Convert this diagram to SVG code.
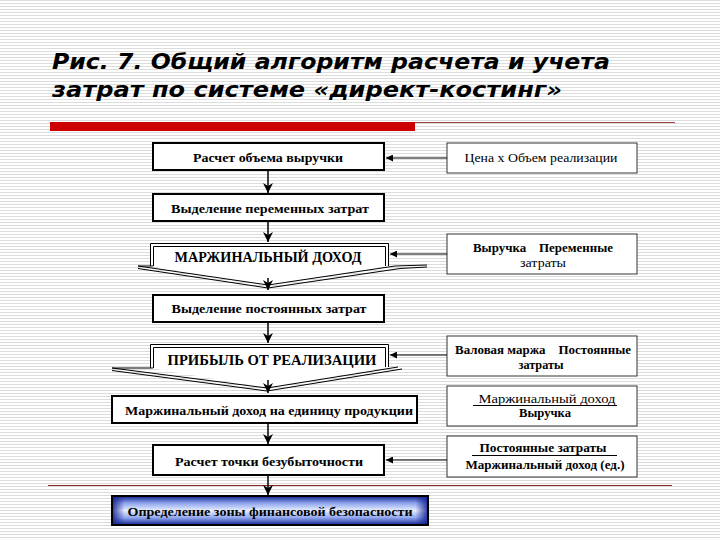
<svg xmlns="http://www.w3.org/2000/svg" width="720" height="540" viewBox="0 0 720 540">
<defs>
<pattern id="stripes" x="0" y="0" width="720" height="3" patternUnits="userSpaceOnUse">
<rect width="720" height="3" fill="#ffffff"/>
<rect y="0" width="720" height="1" fill="#dcdcdc"/>
</pattern>
<marker id="ad" viewBox="0 0 10 10" refX="10" refY="5" markerWidth="10" markerHeight="10" markerUnits="userSpaceOnUse" orient="auto">
<path d="M0,0 L10,5 L0,10 L3,5 z" fill="#000"/>
</marker>
<marker id="al" viewBox="0 0 10 10" refX="10" refY="5" markerWidth="7" markerHeight="7" markerUnits="userSpaceOnUse" orient="auto">
<path d="M0,0 L10,5 L0,10 z" fill="#000"/>
</marker>
<linearGradient id="blueV" x1="0" y1="0" x2="0" y2="1">
<stop offset="0" stop-color="#14228e"/>
<stop offset="0.25" stop-color="#8fa6ee"/>
<stop offset="0.5" stop-color="#e6eeff"/>
<stop offset="0.75" stop-color="#8fa6ee"/>
<stop offset="1" stop-color="#14228e"/>
</linearGradient>
<linearGradient id="blueH" x1="0" y1="0" x2="1" y2="0">
<stop offset="0" stop-color="#14228e" stop-opacity="0.9"/>
<stop offset="0.04" stop-color="#14228e" stop-opacity="0"/>
<stop offset="0.96" stop-color="#14228e" stop-opacity="0"/>
<stop offset="1" stop-color="#14228e" stop-opacity="0.9"/>
</linearGradient>
</defs>
<style>
.title{font-family:"DejaVu Sans","Liberation Sans",sans-serif;font-weight:bold;font-style:italic;font-size:22px;fill:#000}
.t{font-family:"Liberation Serif","Times New Roman",serif;font-weight:bold;font-size:13.5px;fill:#000;text-anchor:middle;dominant-baseline:central}
.tb{font-size:15px}
.r{font-family:"Liberation Serif","Times New Roman",serif;font-size:12.5px;fill:#000;text-anchor:middle;dominant-baseline:central;white-space:pre}
.rb{font-weight:bold}
.box{fill:#fff;stroke:#000;stroke-width:2}
.rbox{fill:#fff;stroke:#333;stroke-width:1}
.banfill{fill:#fff;stroke:none}
.banout{fill:none;stroke:#000;stroke-width:1}
.chev{fill:none;stroke:#000;stroke-width:1}
.con{stroke:#000;stroke-width:1.5;fill:none}
.conr{stroke:#000;stroke-width:1.2;fill:none}
</style>
<rect width="720" height="540" fill="url(#stripes)"/>

<g id="title">
<text class="title" x="52" y="69" textLength="558" lengthAdjust="spacingAndGlyphs">Рис. 7. Общий алгоритм расчета и учета</text>
<text class="title" x="52" y="97" textLength="510" lengthAdjust="spacingAndGlyphs">затрат по системе «директ-костинг»</text>
<rect x="50" y="122" width="365" height="9" fill="#cc0000"/>
<line x1="415" y1="122.5" x2="675" y2="122.5" stroke="#a04040" stroke-width="1"/>
</g>

<g id="n1">
<rect class="box" x="153" y="143" width="231" height="27"/>
<text class="t" x="268" y="157" textLength="150" lengthAdjust="spacingAndGlyphs">Расчет объема выручки</text>
</g>
<g id="r1">
<rect class="rbox" x="447" y="143" width="190" height="30"/>
<text class="r" x="541" y="158" textLength="153" lengthAdjust="spacingAndGlyphs">Цена х Объем реализации</text>
</g>

<g id="n2">
<rect class="box" x="153" y="194" width="231" height="27"/>
<text class="t" x="270" y="208" textLength="198" lengthAdjust="spacingAndGlyphs">Выделение переменных затрат</text>
</g>

<g id="n3">
<polygon class="banfill" points="150,243 388,243 388,266 268,286 150,266"/>
<path class="banout" d="M150.5,266 V243.5 H388.5 V266"/>
<path class="banout" d="M153.5,266 V246.5 H385.5 V266"/>
<polyline class="chev" points="138,266 153,266"/>
<polyline class="chev" points="138,266 268,285 395,266 427,265"/>
<polyline class="chev" points="138,268.5 268,288 400,268.5 427,267"/>
<text class="t tb" x="268" y="257" textLength="187" lengthAdjust="spacingAndGlyphs">МАРЖИНАЛЬНЫЙ ДОХОД</text>
</g>
<g id="r2">
<rect class="rbox" x="447" y="234" width="190" height="40"/>
<text class="r rb" x="543" y="248" textLength="140" lengthAdjust="spacingAndGlyphs">Выручка    Переменные</text>
<text class="r" x="543" y="263" textLength="46" lengthAdjust="spacingAndGlyphs">затраты</text>
</g>

<g id="n4">
<rect class="box" x="153" y="295" width="231" height="27"/>
<text class="t" x="269" y="308" textLength="195" lengthAdjust="spacingAndGlyphs">Выделение постоянных затрат</text>
</g>

<g id="n5">
<polygon class="banfill" points="150,344 388,344 388,367 267,388 150,368"/>
<path class="banout" d="M150.5,368 V344.5 H388.5 V367"/>
<path class="banout" d="M153.5,368 V347.5 H385.5 V367"/>
<polyline class="chev" points="112,368 153,368"/>
<polyline class="chev" points="112,368 267,388 398,367"/>
<polyline class="chev" points="112,370.5 267,391 402,369"/>
<text class="t tb" x="272" y="360" textLength="209" lengthAdjust="spacingAndGlyphs">ПРИБЫЛЬ ОТ РЕАЛИЗАЦИИ</text>
</g>
<g id="r3">
<rect class="rbox" x="447" y="336" width="190" height="40"/>
<text class="r rb" x="543" y="350" textLength="176" lengthAdjust="spacingAndGlyphs">Валовая маржа    Постоянные</text>
<text class="r rb" x="541" y="365" textLength="45" lengthAdjust="spacingAndGlyphs">затраты</text>
</g>

<g id="n6">
<rect class="box" x="112" y="396" width="305" height="27" stroke-width="1.5"/>
<text class="t" x="269" y="410" textLength="288" lengthAdjust="spacingAndGlyphs">Маржинальный доход на единицу продукции</text>
</g>
<g id="r4">
<rect class="rbox" x="447" y="386" width="190" height="40"/>
<text class="r" x="547" y="399" textLength="137" lengthAdjust="spacingAndGlyphs">Маржинальный доход</text>
<line x1="473" y1="405.5" x2="617" y2="405.5" stroke="#000" stroke-width="1"/>
<text class="r rb" x="545" y="413" textLength="52" lengthAdjust="spacingAndGlyphs">Выручка</text>
</g>

<g id="n7">
<rect class="box" x="153" y="445" width="231" height="30" stroke-width="2.5"/>
<text class="t" x="269" y="461" textLength="188" lengthAdjust="spacingAndGlyphs">Расчет точки безубыточности</text>
</g>
<g id="r5">
<rect class="rbox" x="447" y="436" width="190" height="41"/>
<text class="r rb" x="543" y="448" textLength="127" lengthAdjust="spacingAndGlyphs">Постоянные затраты</text>
<line x1="472" y1="455.5" x2="617" y2="455.5" stroke="#000" stroke-width="1"/>
<text class="r rb" x="545" y="465" textLength="159" lengthAdjust="spacingAndGlyphs">Маржинальный доход (ед.)</text>
</g>

<line x1="48" y1="485.5" x2="672" y2="485.5" stroke="#8a2a2a" stroke-width="1"/>

<g id="n8">
<rect x="112" y="496" width="316" height="29" fill="url(#blueV)"/>
<rect x="112" y="496" width="316" height="29" fill="url(#blueH)"/>
<rect x="112" y="496" width="316" height="29" fill="none" stroke="#000" stroke-width="2"/>
<text class="t" x="270" y="511" textLength="285" lengthAdjust="spacingAndGlyphs">Определение зоны финансовой безопасности</text>
</g>

<g id="connectors">
<line class="con" x1="268" y1="170" x2="268" y2="193" marker-end="url(#ad)"/>
<line class="con" x1="268" y1="222" x2="268" y2="242" marker-end="url(#ad)"/>
<line class="con" x1="268" y1="278" x2="268" y2="290" marker-end="url(#ad)"/>
<line class="con" x1="268" y1="323" x2="268" y2="343" marker-end="url(#ad)"/>
<line class="con" x1="268" y1="380" x2="268" y2="393" marker-end="url(#ad)"/>
<line class="con" x1="268" y1="424" x2="268" y2="444" marker-end="url(#ad)"/>
<line class="con" x1="268" y1="476" x2="268" y2="495" marker-end="url(#ad)"/>
<line class="conr" x1="447" y1="158" x2="386" y2="158" marker-end="url(#al)"/>
<line class="conr" x1="447" y1="254" x2="390" y2="254" marker-end="url(#al)"/>
<line class="conr" x1="447" y1="355" x2="390" y2="355" marker-end="url(#al)"/>
<line class="conr" x1="447" y1="460" x2="386" y2="460" marker-end="url(#al)"/>
</g>
</svg>
